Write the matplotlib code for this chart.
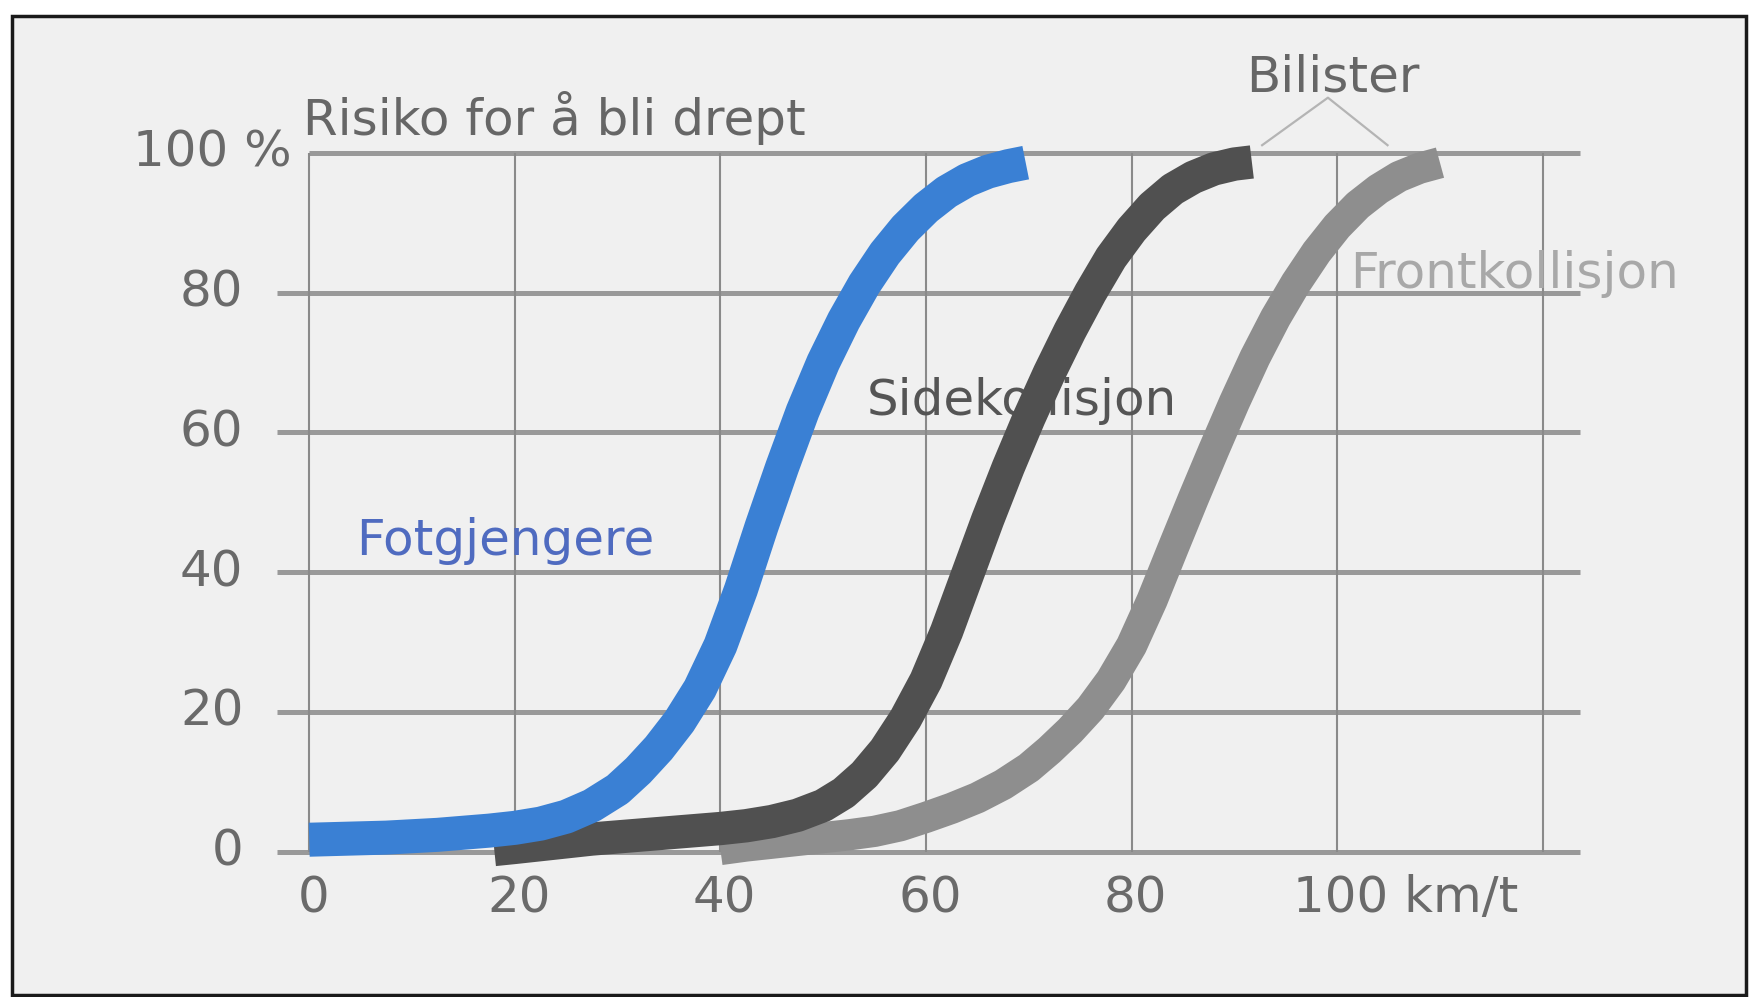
import matplotlib
matplotlib.use("Agg")
import matplotlib.pyplot as plt
from matplotlib.patches import Rectangle

# speed (km/t) and risk of being killed (%)
fot_x = [0, 2.5, 5, 7.5, 10, 12.5, 15, 17.5, 20, 22.5, 25, 27.5, 30, 32, 34, 36, 38, 40,
         42, 44, 46, 48, 50, 52, 54, 56, 58, 60, 62, 64, 66, 68, 69.7]
fot_y = [1.7, 1.8, 1.9, 2.0, 2.2, 2.4, 2.7, 3.0, 3.4, 4.0, 5.0, 6.6, 8.9, 11.6, 14.8, 18.6, 23.3, 29.5,
         37.5, 46.5, 55, 63, 70, 76, 81.2, 85.6, 89.2, 92.1, 94.4, 96.1, 97.3, 98.1, 98.6]

side_x = [18, 20, 22.5, 25, 27.5, 30, 32.5, 35, 37.5, 40, 42.5, 45, 47.5, 50, 52, 54, 56, 58,
          60, 62, 64, 66, 68, 70, 72, 74, 76, 78, 80, 82, 84, 86, 88, 90, 91.7]
side_y = [0.3, 0.6, 1.0, 1.4, 1.8, 2.1, 2.4, 2.7, 3.0, 3.3, 3.7, 4.3, 5.2, 6.6, 8.4, 11, 14.5, 19,
          24.5, 31.5, 39.5, 47.5, 55, 62, 68.5, 74.5, 80, 85, 89, 92.3, 94.8, 96.5, 97.7, 98.4, 98.7]

front_x = [40, 42.5, 45, 47.5, 50, 52.5, 55, 57.5, 60, 62.5, 65, 67.5, 70, 72, 74, 76, 78, 80,
           82, 84, 86, 88, 90, 92, 94, 96, 98, 100, 102, 104, 106, 108, 110]
front_y = [0.3, 0.8, 1.2, 1.6, 2.0, 2.4, 2.9, 3.7, 4.9, 6.2, 7.7, 9.6, 12, 14.5, 17.3, 20.5, 24.5, 29.5,
           36, 43.3, 50.5, 57.5, 64.3, 70.7, 76.4, 81.4, 85.8, 89.5, 92.5, 94.8, 96.6, 97.8, 98.6]

x_ticks = [0, 20, 40, 60, 80, 100, 120]
x_labels = ["0", "20", "40", "60", "80", "100 km/t"]
y_ticks = [0, 20, 40, 60, 80, 100]
y_labels = ["0", "20", "40", "60", "80", "100 %"]

fig = plt.figure(figsize=(17.5, 9.97), dpi=100)
fig.patch.set_facecolor("white")
bg = Rectangle((12 / 1750, 2 / 997), 1734 / 1750, 979 / 997,
               transform=fig.transFigure, facecolor="#f0f0f0",
               edgecolor="#1a1a1a", linewidth=2.5, zorder=-5)
fig.add_artist(bg)

ax = fig.add_axes([0, 0, 1, 1])
ax.patch.set_alpha(0)
ax.set_xlim(-30.08, 140.16)
ax.set_ylim(-20.81, 121.88)
ax.axis("off")

# grid
for y in y_ticks:
    x0 = 0 if y == 100 else -3.15
    ax.hlines(y, x0, 123.6, color="#999999", lw=3.6, zorder=1)
ax.vlines(x_ticks, 0, 100, color="#8a8a8a", lw=1.5, zorder=1)

# tick labels
font = 36
for y, lab in zip(y_ticks, y_labels):
    if lab.endswith("%"):
        ax.text(-1.7, y, lab, ha="right", va="center", fontsize=font, color="#6a6a6a")
    else:
        ax.text(-6.4, y, lab, ha="right", va="center", fontsize=font, color="#6a6a6a")
for x, lab in zip(x_ticks, x_labels):
    if "km" in lab:
        ax.text(95.7, -6.7, lab, ha="left", va="center", fontsize=font, color="#6a6a6a")
    else:
        ax.text(x + 0.4, -6.7, lab, ha="center", va="center", fontsize=font, color="#6a6a6a")

ax.text(-0.6, 102.5, "Risiko for å bli drept", ha="left", va="baseline",
        fontsize=font, color="#666666")

# labels under the curves
ax.text(4.6, 42.4, "Fotgjengere", ha="left", va="baseline", fontsize=font, color="#4f6bc0", zorder=2)
ax.text(54.2, 62.5, "Sidekollisjon", ha="left", va="baseline", fontsize=font, color="#555555", zorder=2)
ax.text(101.3, 80.7, "Frontkollisjon", ha="left", va="baseline", fontsize=font, color="#a8a8a8", zorder=2)

# curves
ax.plot(front_x, front_y, color="#8e8e8e", lw=22.5, solid_capstyle="butt",
        solid_joinstyle="round", zorder=3)
ax.plot(side_x, side_y, color="#505050", lw=24, solid_capstyle="butt",
        solid_joinstyle="round", zorder=4)
ax.plot(fot_x, fot_y, color="#3a80d4", lw=24.5, solid_capstyle="butt",
        solid_joinstyle="round", zorder=5)

# Bilister bracket
ax.text(99.6, 108.8, "Bilister", ha="center", va="baseline", fontsize=font, color="#666666")
ax.plot([92.7, 99.1, 104.9], [101.1, 107.9, 101.1], color="#b4b4b4", lw=1.6, zorder=2)

fig.savefig("out.png", dpi=100)
